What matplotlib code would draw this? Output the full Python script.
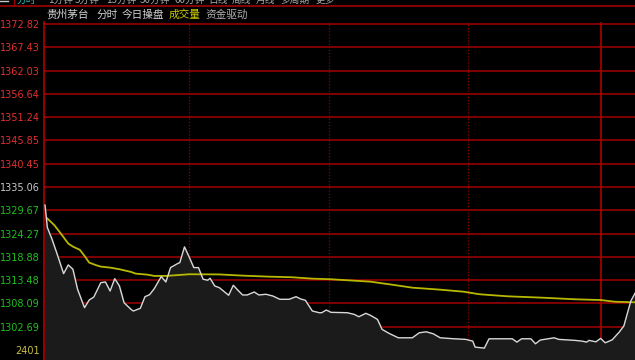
import matplotlib.pyplot as plt
from matplotlib.lines import Line2D

plt.rcParams['font.family'] = ['Noto Sans CJK SC', 'DejaVu Sans']

# intraday price (white) and average price (yellow), minutes from open
price_t = [0, 1, 3, 5, 8, 10, 12, 14, 17, 19, 21, 24, 26, 28, 30, 32, 34, 37, 38, 41,
           43, 45, 47, 50, 52, 54, 57, 58, 60, 62, 64, 66, 68, 70, 71, 73, 75, 79, 81, 83,
           85, 87, 90, 92, 95, 98, 101, 105, 108, 110, 112, 115, 118, 119, 121, 123, 130, 133, 135, 138,
           140, 143, 145, 148, 152, 158, 161, 164, 167, 170, 176, 181, 184, 185, 189, 191, 201, 203, 205, 209,
           211, 213, 219, 221, 228, 231, 233, 234, 237, 239, 241, 244, 247, 249, 251, 252, 254]
price = [1330.88, 1325.68, 1322.98, 1319.87, 1314.99, 1317.01, 1316.01, 1311.37, 1307.10, 1308.88,
         1309.58, 1312.90, 1313.06, 1310.97, 1313.83, 1312.14, 1308.26, 1306.72, 1306.33, 1306.96,
         1309.65, 1310.12, 1311.51, 1314.30, 1313.06, 1316.39, 1317.31, 1317.55, 1321.19, 1318.87,
         1316.39, 1316.39, 1313.69, 1313.46, 1313.92, 1312.14, 1311.74, 1309.98, 1312.30, 1311.14,
         1310.05, 1310.05, 1310.74, 1310.05, 1310.21, 1309.81, 1309.05, 1309.05, 1309.65, 1309.12,
         1308.82, 1306.33, 1305.94, 1305.94, 1306.56, 1306.03, 1305.94, 1305.56, 1305.01, 1305.80,
         1305.33, 1304.40, 1302.08, 1301.15, 1300.13, 1300.13, 1301.29, 1301.52, 1301.06, 1300.13,
         1299.90, 1299.76, 1299.36, 1297.97, 1297.74, 1299.90, 1299.90, 1299.13, 1299.90, 1299.90,
         1298.74, 1299.60, 1300.13, 1299.76, 1299.53, 1299.36, 1299.13, 1299.53, 1299.20, 1299.99,
         1298.97, 1299.66, 1301.45, 1302.85, 1306.72, 1308.65, 1310.63]

avg_t = [1, 4, 7, 10, 12, 15, 17, 19, 22, 24, 28, 32, 37, 39, 44, 47, 52, 58, 62, 75,
         85, 96, 106, 115, 123, 130, 140, 148, 158, 170, 180, 187, 199, 214, 228, 239, 245, 254]
avg = [1327.77, 1326.23, 1324.14, 1321.96, 1321.26, 1320.50, 1319.10, 1317.55, 1316.94, 1316.62,
       1316.39, 1316.01, 1315.39, 1314.99, 1314.76, 1314.46, 1314.46, 1314.69, 1314.85, 1314.81,
       1314.53, 1314.30, 1314.16, 1313.83, 1313.69, 1313.46, 1313.13, 1312.53, 1311.74, 1311.28,
       1310.81, 1310.21, 1309.74, 1309.42, 1309.05, 1308.88, 1308.49, 1308.35]

prev_close = 1335.06
price_ticks = [1372.82, 1367.43, 1362.03, 1356.64, 1351.24, 1345.85, 1340.45, 1335.06,
               1329.67, 1324.27, 1318.88, 1313.48, 1308.09, 1302.69]
vol_tick = 1297.30
vol_label = '2401'

title_parts = ['贵州茅台', '分时', '今日操盘', '成交量', '资金驱动']
tab_labels = ['分时', '1分钟', '5分钟', '15分钟', '30分钟', '60分钟', '日线', '周线', '月线', '多周期', '更多']

W, H = 635, 360
px = 4.32  # pixels per price unit
fig = plt.figure(figsize=(W / 100, H / 100), dpi=100, facecolor='black')
ax = fig.add_axes([44 / W, 0, 591 / W, 338 / H], facecolor='black')

ax.set_xlim(-0.43, 253.8)
bottom = vol_tick - 10 / px
ax.set_ylim(bottom, price_ticks[0] + 2 / px)

# grid
for v in price_ticks:
    ax.axhline(v, color='#8a0000', lw=1.3, zorder=1)
ax.axhline(vol_tick, color='#b00000', lw=1.6, zorder=1)
for m in [62, 122, 182]:
    ax.axvline(m, color='#8a0000', lw=0.9, ls=(0, (1, 1.5)), zorder=1)
ax.axvline(239, color='#a00000', lw=1.3, zorder=1)

ax.fill_between(price_t, price, bottom, color='#1b1b1b', zorder=2)
ax.plot(avg_t, avg, color='#b8b800', lw=1.3, zorder=3)
ax.plot(price_t, price, color='#d8d8d8', lw=1.0, zorder=4)

for s in ['top', 'right', 'bottom']:
    ax.spines[s].set_visible(False)
ax.spines['left'].set_color('#b00000')
ax.spines['left'].set_linewidth(1.2)
ax.set_xticks([])
ax.set_yticks(price_ticks + [vol_tick])
ax.set_yticklabels([f'{v:.2f}' for v in price_ticks] + [vol_label])
ax.tick_params(axis='y', length=0, pad=3, labelsize=7)
for lab, v in zip(ax.get_yticklabels(), price_ticks + [vol_tick]):
    lab.set_family('DejaVu Sans')
    if v == vol_tick:
        lab.set_color('#c8c040')
    elif v > prev_close + 0.01:
        lab.set_color('#e03030')
    elif abs(v - prev_close) < 0.01:
        lab.set_color('#c8c8c8')
    else:
        lab.set_color('#20c020')

# header bar: tab row is cut off by the top edge, only its lower part shows
fig.add_artist(Line2D([0, 1], [1 - 5.5 / H, 1 - 5.5 / H], color='#a00000', lw=1.2))
fig.add_artist(Line2D([13.5 / W, 13.5 / W], [1, 1 - 5 / H], color='#a00000', lw=1))
fig.add_artist(Line2D([0, 8 / W], [1 - 1 / H, 1 - 1 / H], color='#c8c8c8', lw=1))
tab_x = [17, 48, 75, 106, 140, 174, 208, 232, 256, 280, 316]
for i, (lab, x) in enumerate(zip(tab_labels, tab_x)):
    fig.text(x / W, 1 - 2.5 / H, lab, fontsize=7, va='baseline',
             color='#30c0c0' if i == 0 else '#a8a8a8')

title_x = [46, 97, 122, 169, 205]
title_c = ['#d0d0d0', '#d0d0d0', '#d0d0d0', '#c8c800', '#b0b0b0']
for t, x, c in zip(title_parts, title_x, title_c):
    fig.text(x / W, 1 - 15 / H, t, fontsize=7.7, va='center', color=c)

fig.savefig('out.png', dpi=100, facecolor='black')
